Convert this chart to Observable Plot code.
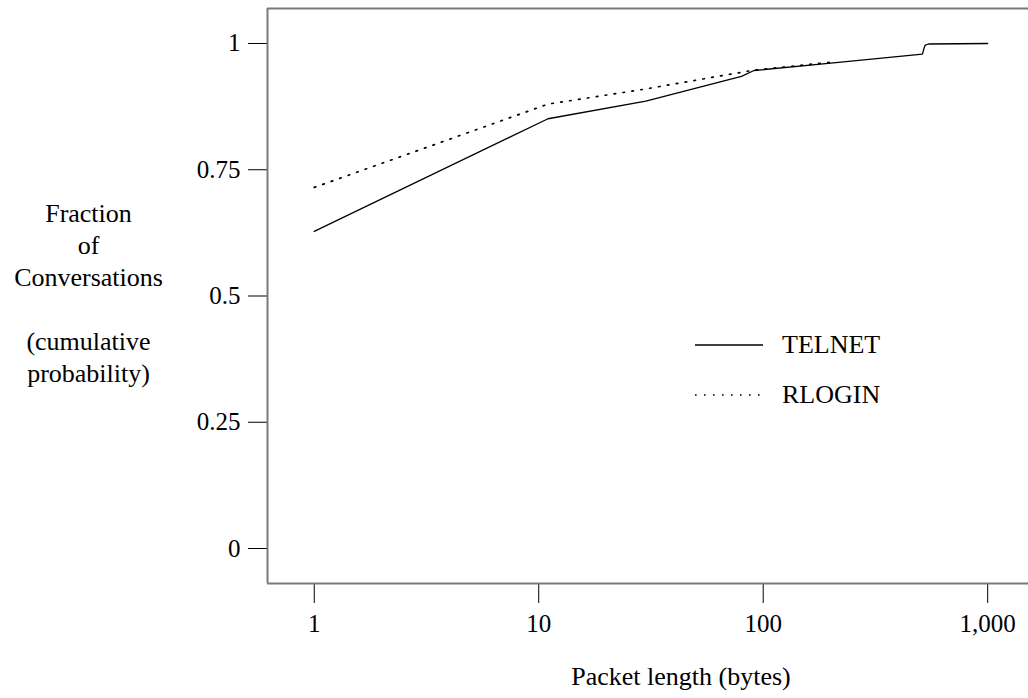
<!DOCTYPE html>
<html>
<head>
<meta charset="utf-8">
<script src="https://cdn.jsdelivr.net/npm/d3@7"></script>
<script src="https://cdn.jsdelivr.net/npm/@observablehq/plot@0.6"></script>
<style>
  html, body { margin: 0; padding: 0; background: #fff; }
  #chart { width: 1028px; height: 698px; }
</style>
</head>
<body>
<div id="chart"></div>
<script>
// ---- data ----
const telnetLength   = [1, 11, 30, 80, 91, 200, 512, 520, 527, 545, 1000];
const telnetFraction = [0.628, 0.851, 0.886, 0.935, 0.9465, 0.961, 0.979, 0.99, 0.997, 0.999, 1.0];
const rloginLength   = [1, 11, 30, 90, 200];
const rloginFraction = [0.715, 0.88, 0.91, 0.947, 0.963];
const xTicks = [1, 10, 100, 1000];
const yTicks = [0, 0.25, 0.5, 0.75, 1];
const seriesNames = ["TELNET", "RLOGIN"];
const xLabel = "Packet length (bytes)";
const yLabel = "Fraction\nof\nConversations\n\u00a0\n(cumulative\nprobability)";

const telnet = telnetLength.map((d, i) => ({len: d, frac: telnetFraction[i]}));
const rlogin = rloginLength.map((d, i) => ({len: d, frac: rloginFraction[i]}));

const xDomain = [0.619, 1520];
const yDomain = [-0.0693, 1.0693];
const frameColor = "#7a7a7a";
const font = "'Liberation Serif', 'Times New Roman', serif";

const plot = Plot.plot({
  width: 1028,
  height: 698,
  marginLeft: 267,
  marginRight: 0,
  marginTop: 8,
  marginBottom: 115,
  style: {fontFamily: font, fontSize: "25px", color: "#000", background: "#fff", overflow: "visible"},
  x: {type: "log", domain: xDomain, ticks: xTicks, tickFormat: d3.format(","), tickSize: 20, tickPadding: 11, label: null},
  y: {domain: yDomain, ticks: yTicks, tickFormat: d => String(d), tickSize: 19, tickPadding: 8, label: null},
  marks: [
    Plot.ruleX([xDomain[0]], {stroke: frameColor, strokeWidth: 2}),
    Plot.ruleY([yDomain[0], yDomain[1]], {stroke: frameColor, strokeWidth: 2}),
    Plot.line(telnet, {x: "len", y: "frac", stroke: "#000", strokeWidth: 1.3}),
    Plot.line(rlogin, {x: "len", y: "frac", stroke: "#000", strokeWidth: 1.7, strokeDasharray: "1.6 7.4"}),
    Plot.text([yLabel], {text: d => d, frameAnchor: "left", dx: -179, dy: -4, textAnchor: "middle", lineAnchor: "middle", lineHeight: 1.23, fontSize: 26, fill: "#000"}),
    Plot.text([xLabel], {text: d => d, frameAnchor: "bottom", dx: 33, dy: 93, textAnchor: "middle", lineAnchor: "middle", fontSize: 26, fill: "#000"})
  ]
});

document.getElementById("chart").appendChild(plot);

// legend drawn inside the plot SVG
const svg = d3.select(plot);
const legend = svg.append("g")
  .attr("font-family", font)
  .attr("font-size", 26)
  .attr("text-anchor", "start");
const legendItems = [
  {name: seriesNames[0], dash: null, width: 1.3, y: 345},
  {name: seriesNames[1], dash: "1.6 7.4", width: 1.7, y: 395}
];
legendItems.forEach(item => {
  legend.append("line")
    .attr("x1", 695).attr("x2", 763)
    .attr("y1", item.y).attr("y2", item.y)
    .attr("stroke", "#000").attr("stroke-width", item.width)
    .attr("stroke-dasharray", item.dash);
  legend.append("text")
    .attr("x", 782).attr("y", item.y).attr("dy", "0.32em")
    .attr("fill", "#000")
    .attr("text-anchor", "start")
    .text(item.name);
});
</script>
</body>
</html>
